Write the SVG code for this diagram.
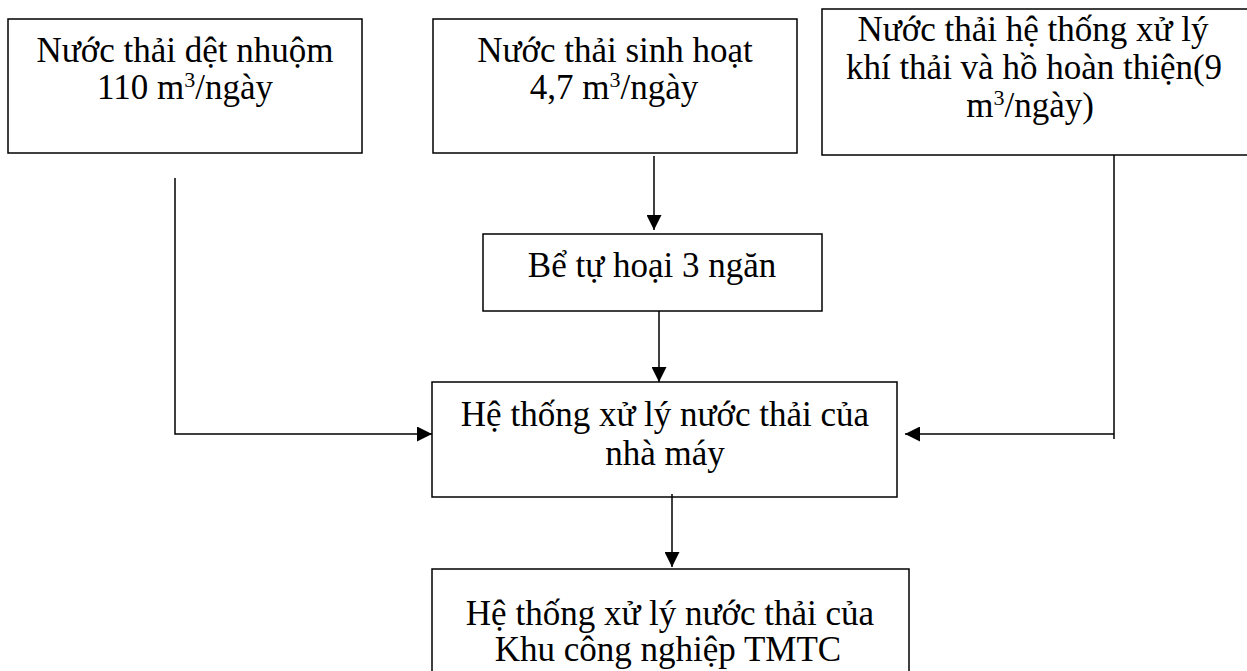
<svg xmlns="http://www.w3.org/2000/svg" width="1247" height="671" viewBox="0 0 1247 671">
<style>
.box{fill:#fff;stroke:#000;stroke-width:1.5}
.t{font-family:"Liberation Serif","Times New Roman",serif;font-size:35px;fill:#000;text-anchor:middle}
.sup{font-size:22px}
.c{fill:none;stroke:#000;stroke-width:1.5}
</style>
<defs>
<marker id="ah" markerUnits="userSpaceOnUse" markerWidth="16" markerHeight="15" refX="15" refY="7.5" orient="auto">
<path d="M0,0 L15,7.5 L0,15 Z" fill="#000"/>
</marker>
</defs>
<rect width="1247" height="671" fill="#fff"/>
<g id="n1">
<rect class="box" x="8" y="19" width="354" height="134"/>
<text class="t" x="185" y="62">Nước thải dệt nhuộm</text>
<text class="t" x="185" y="99">110 m<tspan class="sup" dy="-12">3</tspan><tspan dy="12">/ngày</tspan></text>
</g>
<g id="n2">
<rect class="box" x="433" y="19" width="364" height="134"/>
<text class="t" x="615" y="62">Nước thải sinh hoạt</text>
<text class="t" x="614" y="99">4,7 m<tspan class="sup" dy="-12">3</tspan><tspan dy="12">/ngày</tspan></text>
</g>
<g id="n3">
<rect class="box" x="822" y="9" width="440" height="146"/>
<text class="t" x="1033" y="41">Nước thải hệ thống xử lý</text>
<text class="t" x="1034" y="79">khí thải và hồ hoàn thiện(9</text>
<text class="t" x="1030" y="117">m<tspan class="sup" dy="-12">3</tspan><tspan dy="12">/ngày)</tspan></text>
</g>
<g id="n4">
<rect class="box" x="483" y="234" width="339" height="77"/>
<text class="t" x="652" y="277">Bể tự hoại 3 ngăn</text>
</g>
<g id="n5">
<rect class="box" x="432" y="382" width="465" height="115"/>
<text class="t" x="665" y="426">Hệ thống xử lý nước thải của</text>
<text class="t" x="665" y="465">nhà máy</text>
</g>
<g id="n6">
<rect class="box" x="432" y="569" width="477" height="120"/>
<text class="t" x="670" y="625">Hệ thống xử lý nước thải của</text>
<text class="t" x="668" y="661">Khu công nghiệp TMTC</text>
</g>
<g id="connectors">
<line class="c" x1="654" y1="156" x2="654" y2="230" marker-end="url(#ah)"/>
<line class="c" x1="659" y1="311" x2="659" y2="382" marker-end="url(#ah)"/>
<polyline class="c" points="175,178 175,434 432,434" marker-end="url(#ah)"/>
<line class="c" x1="1114" y1="155" x2="1114" y2="439"/>
<line class="c" x1="1114" y1="434" x2="905" y2="434" marker-end="url(#ah)"/>
<line class="c" x1="672" y1="494" x2="672" y2="567" marker-end="url(#ah)"/>
</g>
</svg>
